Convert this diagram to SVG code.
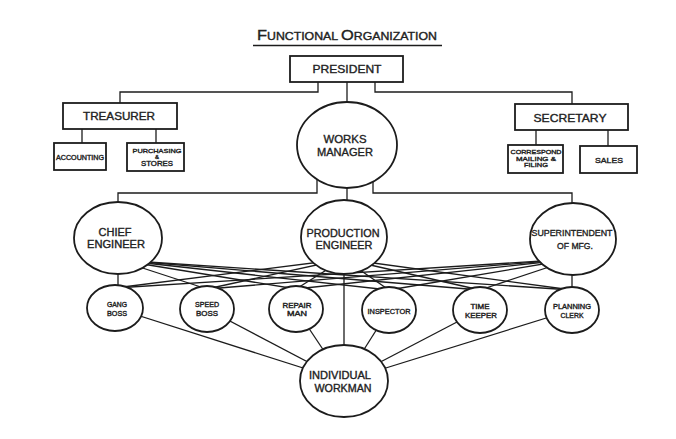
<svg xmlns="http://www.w3.org/2000/svg" width="676" height="439" viewBox="0 0 676 439">
<style>
.ln{fill:none;stroke:#1c1c1c;stroke-width:1.3}
.bx{fill:#fff;stroke:#1c1c1c;stroke-width:1.8}
.t{font-family:"Liberation Sans",Arial,sans-serif;fill:#222;stroke:#222;stroke-width:0.35;text-anchor:middle;dominant-baseline:central}
</style>
<rect width="676" height="439" fill="#fff"/>
<g id="title">
<text class="t" x="347" y="40" textLength="180" lengthAdjust="spacingAndGlyphs" style="dominant-baseline:alphabetic"><tspan font-size="14">F</tspan><tspan font-size="10.5">UNCTIONAL </tspan><tspan font-size="14">O</tspan><tspan font-size="10.5">RGANIZATION</tspan></text>
<line class="ln" x1="253" y1="45.5" x2="442" y2="45.5"/>
</g>
<g id="connectors">
<polyline class="ln" points="318,82 318,92 120,92 120,103"/>
<polyline class="ln" points="375,82 375,92 572,92 572,104"/>
<line class="ln" x1="347" y1="82" x2="347" y2="103"/>
<line class="ln" x1="82" y1="129" x2="82" y2="143"/>
<line class="ln" x1="156" y1="129" x2="156" y2="143"/>
<line class="ln" x1="536" y1="130" x2="536" y2="145"/>
<line class="ln" x1="608" y1="130" x2="608" y2="146"/>
<polyline class="ln" points="317,179 317,193 118,193 118,202"/>
<polyline class="ln" points="373,182 373,193 572,193 572,203"/>
<line class="ln" x1="347" y1="188" x2="347" y2="201"/>
<line class="ln" x1="118" y1="270" x2="118" y2="290"/>
<line class="ln" x1="572" y1="270" x2="572" y2="290"/>
<line class="ln" x1="344" y1="270" x2="344" y2="350"/>
<line class="ln" x1="118" y1="260" x2="207" y2="289"/>
<line class="ln" x1="118" y1="260" x2="296" y2="289"/>
<line class="ln" x1="118" y1="260" x2="389" y2="290"/>
<line class="ln" x1="118" y1="260" x2="480" y2="290"/>
<line class="ln" x1="118" y1="260" x2="572" y2="290"/>
<line class="ln" x1="344" y1="259" x2="115" y2="288"/>
<line class="ln" x1="344" y1="259" x2="207" y2="289"/>
<line class="ln" x1="344" y1="259" x2="296" y2="289"/>
<line class="ln" x1="344" y1="259" x2="389" y2="290"/>
<line class="ln" x1="344" y1="259" x2="480" y2="290"/>
<line class="ln" x1="344" y1="259" x2="572" y2="290"/>
<line class="ln" x1="573" y1="259" x2="115" y2="288"/>
<line class="ln" x1="573" y1="259" x2="207" y2="289"/>
<line class="ln" x1="573" y1="259" x2="296" y2="289"/>
<line class="ln" x1="573" y1="259" x2="389" y2="290"/>
<line class="ln" x1="573" y1="259" x2="480" y2="290"/>
<line class="ln" x1="115" y1="308" x2="344" y2="381"/>
<line class="ln" x1="207" y1="309" x2="344" y2="381"/>
<line class="ln" x1="296" y1="309" x2="344" y2="381"/>
<line class="ln" x1="389" y1="310" x2="344" y2="381"/>
<line class="ln" x1="480" y1="310" x2="344" y2="381"/>
<line class="ln" x1="572" y1="310" x2="344" y2="381"/>
</g>
<g id="president">
<rect class="bx" x="290" y="56" width="113" height="26"/>
<text class="t" x="347" y="69" font-size="11" textLength="69" lengthAdjust="spacingAndGlyphs">PRESIDENT</text>
</g>
<g id="treasurer">
<rect class="bx" x="63" y="103" width="114" height="26"/>
<text class="t" x="119" y="116" font-size="10" textLength="72" lengthAdjust="spacingAndGlyphs">TREASURER</text>
</g>
<g id="accounting">
<rect class="bx" x="54" y="143" width="52" height="27"/>
<text class="t" x="80" y="157" font-size="6.5" textLength="48" lengthAdjust="spacingAndGlyphs">ACCOUNTING</text>
</g>
<g id="purchasing">
<rect class="bx" x="127" y="143" width="57" height="28"/>
<text class="t" x="157" y="151" font-size="6" textLength="49" lengthAdjust="spacingAndGlyphs">PURCHASING</text>
<text class="t" x="157" y="157" font-size="6">&amp;</text>
<text class="t" x="157" y="163.5" font-size="6.5" textLength="32" lengthAdjust="spacingAndGlyphs">STORES</text>
</g>
<g id="secretary">
<rect class="bx" x="515" y="104" width="113" height="26"/>
<text class="t" x="570" y="118" font-size="10.5" textLength="73" lengthAdjust="spacingAndGlyphs">SECRETARY</text>
</g>
<g id="correspond">
<rect class="bx" x="508" y="145" width="55" height="28"/>
<text class="t" x="536" y="152" font-size="6" textLength="51" lengthAdjust="spacingAndGlyphs">CORRESPOND</text>
<text class="t" x="536" y="158.5" font-size="6" textLength="40" lengthAdjust="spacingAndGlyphs">MAILING &amp;</text>
<text class="t" x="536" y="165" font-size="6" textLength="24" lengthAdjust="spacingAndGlyphs">FILING</text>
</g>
<g id="sales">
<rect class="bx" x="580" y="146" width="57" height="27"/>
<text class="t" x="609" y="160" font-size="7" textLength="28" lengthAdjust="spacingAndGlyphs">SALES</text>
</g>
<g id="works-manager">
<ellipse class="bx" cx="347" cy="145" rx="50" ry="43"/>
<text class="t" x="345" y="139" font-size="11" textLength="43" lengthAdjust="spacingAndGlyphs">WORKS</text>
<text class="t" x="345" y="152" font-size="11" textLength="56" lengthAdjust="spacingAndGlyphs">MANAGER</text>
</g>
<g id="chief-engineer">
<ellipse class="bx" cx="118" cy="238" rx="44" ry="36"/>
<text class="t" x="115" y="232" font-size="10" textLength="33" lengthAdjust="spacingAndGlyphs">CHIEF</text>
<text class="t" x="116" y="244" font-size="10" textLength="58" lengthAdjust="spacingAndGlyphs">ENGINEER</text>
</g>
<g id="production-engineer">
<ellipse class="bx" cx="344" cy="237" rx="43" ry="37"/>
<text class="t" x="343" y="233" font-size="10.5" textLength="73" lengthAdjust="spacingAndGlyphs">PRODUCTION</text>
<text class="t" x="344" y="245" font-size="10.5" textLength="57" lengthAdjust="spacingAndGlyphs">ENGINEER</text>
</g>
<g id="superintendent">
<ellipse class="bx" cx="573" cy="239" rx="43" ry="36"/>
<text class="t" x="572" y="233" font-size="9" textLength="81" lengthAdjust="spacingAndGlyphs">SUPERINTENDENT</text>
<text class="t" x="575" y="246" font-size="9" textLength="36" lengthAdjust="spacingAndGlyphs">OF MFG.</text>
</g>
<g id="gang-boss">
<ellipse class="bx" cx="115" cy="308" rx="28" ry="23"/>
<text class="t" x="117" y="304" font-size="6.5" textLength="20" lengthAdjust="spacingAndGlyphs">GANG</text>
<text class="t" x="117" y="313" font-size="6.5" textLength="20" lengthAdjust="spacingAndGlyphs">BOSS</text>
</g>
<g id="speed-boss">
<ellipse class="bx" cx="207" cy="309" rx="27" ry="23"/>
<text class="t" x="207" y="304" font-size="6.5" textLength="24" lengthAdjust="spacingAndGlyphs">SPEED</text>
<text class="t" x="207" y="313" font-size="6.5" textLength="22" lengthAdjust="spacingAndGlyphs">BOSS</text>
</g>
<g id="repair-man">
<ellipse class="bx" cx="296" cy="309" rx="27" ry="23"/>
<text class="t" x="297" y="305" font-size="6.5" textLength="29" lengthAdjust="spacingAndGlyphs">REPAIR</text>
<text class="t" x="297" y="313.5" font-size="6.5" textLength="20" lengthAdjust="spacingAndGlyphs">MAN</text>
</g>
<g id="inspector">
<ellipse class="bx" cx="389" cy="310" rx="27" ry="23"/>
<text class="t" x="389" y="311" font-size="7" textLength="43" lengthAdjust="spacingAndGlyphs">INSPECTOR</text>
</g>
<g id="time-keeper">
<ellipse class="bx" cx="480" cy="310" rx="27" ry="23"/>
<text class="t" x="480" y="306" font-size="6.5" textLength="19" lengthAdjust="spacingAndGlyphs">TIME</text>
<text class="t" x="481" y="315" font-size="6.5" textLength="32" lengthAdjust="spacingAndGlyphs">KEEPER</text>
</g>
<g id="planning-clerk">
<ellipse class="bx" cx="572" cy="310" rx="27" ry="23"/>
<text class="t" x="572" y="306" font-size="6.5" textLength="38" lengthAdjust="spacingAndGlyphs">PLANNING</text>
<text class="t" x="572" y="315" font-size="6.5" textLength="23" lengthAdjust="spacingAndGlyphs">CLERK</text>
</g>
<g id="individual-workman">
<ellipse class="bx" cx="344" cy="381" rx="44" ry="36"/>
<text class="t" x="340" y="375" font-size="10" textLength="62" lengthAdjust="spacingAndGlyphs">INDIVIDUAL</text>
<text class="t" x="343" y="388" font-size="10" textLength="57" lengthAdjust="spacingAndGlyphs">WORKMAN</text>
</g>
</svg>
